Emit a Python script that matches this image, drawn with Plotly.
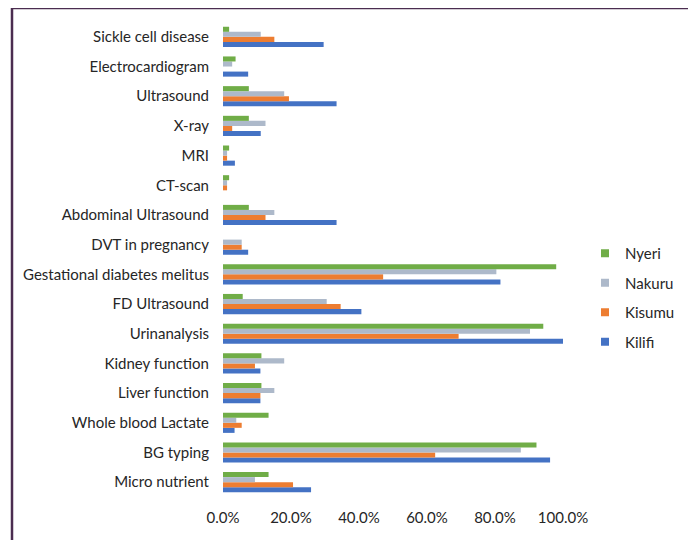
import plotly.graph_objects as go

categories = [
    "Sickle cell disease", "Electrocardiogram", "Ultrasound", "X-ray", "MRI",
    "CT-scan", "Abdominal Ultrasound", "DVT in pregnancy",
    "Gestational diabetes melitus", "FD Ultrasound", "Urinanalysis",
    "Kidney function", "Liver function", "Whole blood Lactate", "BG typing",
    "Micro nutrient",
]
kilifi = [0.296, 0.074, 0.334, 0.111, 0.035, 0.0, 0.334, 0.074, 0.816, 0.407, 1.0, 0.11, 0.11, 0.034, 0.962, 0.259]
kisumu = [0.151, 0.0, 0.194, 0.027, 0.012, 0.012, 0.125, 0.055, 0.471, 0.346, 0.693, 0.094, 0.11, 0.055, 0.624, 0.206]
nakuru = [0.111, 0.027, 0.18, 0.125, 0.012, 0.012, 0.151, 0.055, 0.804, 0.305, 0.903, 0.18, 0.151, 0.039, 0.876, 0.094]
nyeri = [0.018, 0.037, 0.076, 0.076, 0.018, 0.018, 0.076, 0.0, 0.98, 0.058, 0.942, 0.113, 0.113, 0.134, 0.922, 0.134]
x_ticks = [0, 0.2, 0.4, 0.6, 0.8, 1.0]

series = [
    ("Kilifi", kilifi, "#4472C4"),
    ("Kisumu", kisumu, "#ED7D31"),
    ("Nakuru", nakuru, "#ADB9CA"),
    ("Nyeri", nyeri, "#70AD47"),
]

FONT = "Lato"
fig = go.Figure()
for name, vals, color in series:
    fig.add_trace(go.Bar(
        y=categories, x=vals, name=name, orientation="h",
        marker=dict(color=color, line=dict(width=0)),
        showlegend=False, legendgroup=name,
    ))
for name, vals, color in series[::-1]:
    fig.add_trace(go.Scatter(
        x=[None], y=[None], mode="markers", name=name, legendgroup=name,
        marker=dict(symbol="square", size=8, color=color),
    ))

# page offset of 8px (default body margin)
OFF = 8
W, H = 696 - OFF, 540 - OFF
L, R, T, B = 223 - OFF, 563 - OFF, 22 - OFF, 497 - OFF
def px_x(p):
    return (p - OFF - L) / (R - L)
def px_y(p):
    return (B - (p - OFF)) / (B - T)

fig.update_layout(
    width=W, height=H,
    margin=dict(l=L, r=W - R, t=T, b=H - B, autoexpand=False),
    paper_bgcolor="white", plot_bgcolor="white",
    barmode="group", bargap=0.32, bargroupgap=0.0,
    font=dict(family=FONT, size=15, color="#262626"),
    xaxis=dict(
        range=[0, 1.0], tickvals=x_ticks, tickformat=".1%",
        showgrid=False, zeroline=False, showline=False,
        ticklabelstandoff=10, tickfont=dict(size=15, color="#262626"),
    ),
    yaxis=dict(
        categoryorder="array", categoryarray=categories[::-1],
        showgrid=False, zeroline=False, showline=False,
        ticklabelstandoff=13, tickfont=dict(size=15, color="#262626"),
    ),
    legend=dict(
        x=px_x(585), y=px_y(237), xanchor="left", yanchor="top",
        traceorder="grouped", tracegroupgap=7,
        font=dict(size=15, color="#262626"), bgcolor="rgba(0,0,0,0)",
    ),
    shapes=[dict(
        type="rect", xref="paper", yref="paper",
        x0=px_x(12), x1=px_x(690), y0=px_y(600), y1=px_y(8),
        line=dict(color="#4B2D50", width=2.5), fillcolor="rgba(0,0,0,0)",
        layer="above",
    )],
)

fig.write_html("out.html")
